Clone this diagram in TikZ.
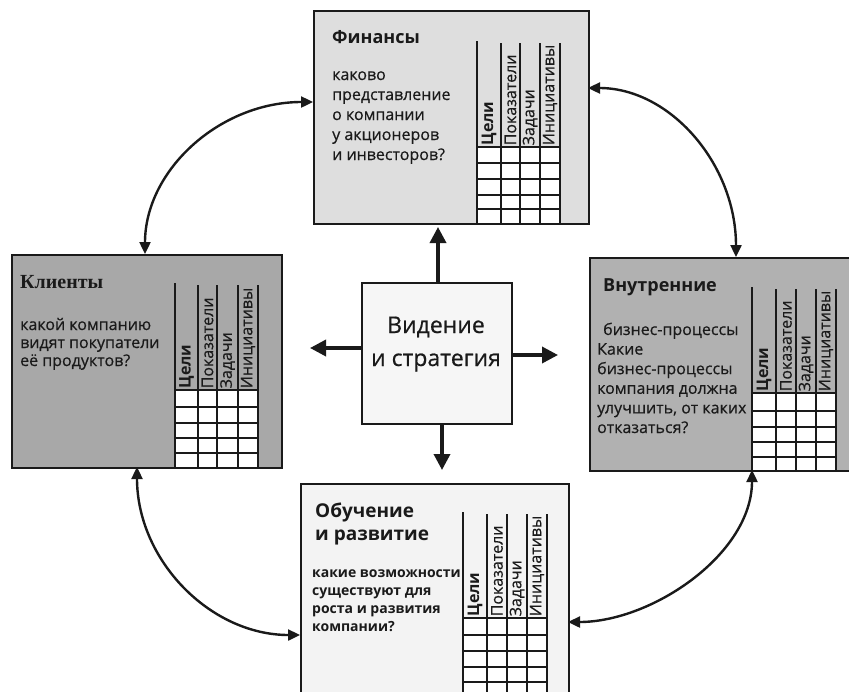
\documentclass[tikz,border=0pt]{standalone}
\usepackage{fontspec}
\setmainfont{Open Sans}
\newfontfamily\bodyfont{Open Sans}[FakeBold=0.5]
\newfontfamily\slabfont{Liberation Serif}
\usetikzlibrary{arrows.meta}

\definecolor{ink}{HTML}{1A1A1A}
\definecolor{finfill}{HTML}{DEDEDE}
\definecolor{clifill}{HTML}{A8A8A8}
\definecolor{intfill}{HTML}{B1B1B1}
\definecolor{lrnfill}{HTML}{F3F3F3}
\definecolor{visfill}{HTML}{F6F6F6}

\tikzset{
  card/.style={draw=ink, line width=1.8pt, anchor=north west, inner sep=0pt},
  gridrule/.style={line width=1.7pt, draw=ink},
  colhead/.style={rotate=90, anchor=west, inner sep=1.5pt, text=ink,
    font=\fontsize{16}{16}\bodyfont},
  cardtitle/.style={anchor=base west, inner sep=0pt, text=ink,
    font=\fontsize{18}{24}\selectfont\bfseries},
  cardbody/.style={anchor=base west, inner sep=0pt, text=ink},
  bigarrow/.style={draw=ink, line width=3.5pt, -{Triangle[length=16pt,width=16pt]}},
  link/.style={draw=ink, line width=2.4pt,
    {Triangle[length=12pt,width=11pt]}-{Triangle[length=12pt,width=11pt]}},
}

% lines of text whose base is the baseline of the first line
\newcommand\toplines[1]{\begin{tabular}[t]{@{}l@{}}#1\end{tabular}}
\newcommand\topcentre[1]{\begin{tabular}[t]{@{}c@{}}#1\end{tabular}}

% scorecard table: rules at five x positions, header column labels, five rows of cells
\def\bscsplit#1,#2,#3,#4,#5\relax{\def\xa{#1}\def\xb{#2}\def\xc{#3}\def\xd{#4}\def\xe{#5}}
\newcommand\bscgrid[6]{% #1 name prefix, #2 x of rules, #3 top of rules, #4 top of cells, #5 bottom, #6 inner row rules
  \bscsplit#2\relax
  \fill[white] (\xa,#4) rectangle (\xe,#5);
  \foreach \yy in {#4,#6} \draw[gridrule] (\xa,\yy) -- (\xe,\yy);
  \draw[gridrule] (\xa,#3-2) -- (\xa,#5);
  \foreach \xx in {\xb,\xc,\xd,\xe} \draw[gridrule] (\xx,#3) -- (\xx,#5);
  \node[colhead, font=\fontsize{16}{16}\selectfont\bfseries] (#1-goals) at ({(\xa+\xb)/2},#4) {Цели};
  \node[colhead] (#1-kpi) at ({(\xb+\xc)/2},#4) {Показатели};
  \node[colhead] (#1-tasks) at ({(\xc+\xd)/2},#4) {Задачи};
  \node[colhead] (#1-init) at ({(\xd+\xe)/2},#4) {Инициативы};
}

\begin{document}
\begin{tikzpicture}[x=1pt, y=-1pt]
\useasboundingbox (0,0) rectangle (849,691);
\clip (0,0) rectangle (849,691);
\fill[white] (0,0) rectangle (849,691);

% --- the four perspective cards ---
\node[card, fill=finfill, minimum width=275pt, minimum height=213pt] (fin) at (313,10) {};
\node[card, fill=clifill, minimum width=270pt, minimum height=213pt] (cli) at (11,254) {};
\node[card, fill=intfill, minimum width=280pt, minimum height=213pt] (int) at (589,257) {};
\node[card, fill=lrnfill, minimum width=268pt, minimum height=240pt] (lrn) at (300,483) {};

% --- centre ---
\node[card, fill=visfill, minimum width=150pt, minimum height=141pt] (vis) at (361,282) {};
\node[anchor=base, inner sep=0pt, text=ink, font=\fontsize{23}{33}\bodyfont]
  (vistext) at (436,333) {\topcentre{Видение\\и стратегия}};

% --- tables ---
\bscgrid{fin}{477,501,520,540,560}{43}{147}{223}{163,179,195,209}
\bscgrid{cli}{175,198,217,238,258}{285}{390}{467}{407,423,438,453}
\bscgrid{int}{752,776,796,816,836}{289}{393}{470}{411,427,442,457}
\bscgrid{lrn}{463,487,507,527,547}{514}{618}{700}{635,651,667,682,698}

% --- card texts ---
\node[cardtitle] (fin-title) at (332,43) {Финансы};
\node[cardbody, font=\fontsize{16}{20}\bodyfont] (fin-text) at (332,80)
  {\toplines{каково\\представление\\о компании\\у акционеров\\и инвесторов?}};

\node[cardtitle, font=\fontsize{20}{24}\slabfont\bfseries] (cli-title) at (20,288) {Клиенты};
\node[cardbody, font=\fontsize{16}{18}\bodyfont] (cli-text) at (20,330)
  {\toplines{какой компанию\\видят покупатели\\её продуктов?}};

\node[cardtitle] (int-title) at (603,291) {Внутренние};
\node[cardbody, font=\fontsize{16}{19.6}\bodyfont] (int-text) at (597,335)
  {\toplines{\hspace{6pt}бизнес-процессы\\Какие\\бизнес-процессы\\компания должна\\улучшить, от каких\\отказаться?}};

\node[cardtitle, font=\fontsize{19}{23.5}\selectfont\bfseries] (lrn-title) at (315,517)
  {\toplines{Обучение\\и развитие}};
\node[cardbody, font=\fontsize{14}{18.3}\selectfont\bfseries] (lrn-text) at (312,577)
  {\toplines{какие возможности\\существуют для\\роста и развития\\компании?}};

% --- arrows from the centre ---
\coordinate (upTip) at (438,227);
\coordinate (downTip) at (442,470);
\coordinate (leftTip) at (310,348);
\coordinate (rightTip) at (558,355);
\draw[bigarrow] (vis.north -| upTip) -- (upTip);
\draw[bigarrow] (vis.south -| downTip) -- (downTip);
\draw[bigarrow] (vis.west |- leftTip) -- (leftTip);
\draw[bigarrow] (vis.east |- rightTip) -- (rightTip);

% --- links between neighbouring cards ---
\coordinate (finW) at (313,102);
\coordinate (finE) at (588,88);
\coordinate (cliN) at (145,254);
\coordinate (cliS) at (137,467);
\coordinate (intN) at (736,257);
\coordinate (intS) at (752,470);
\coordinate (lrnW) at (300,635);
\coordinate (lrnE) at (568,622);
\draw[link] (finW) .. controls (220,102) and (145,170) .. (cliN);
\draw[link] (finE) .. controls (670,88) and (736,164) .. (intN);
\draw[link] (cliS) .. controls (137,560) and (210,635) .. (lrnW);
\draw[link] (intS) .. controls (752,554) and (652,622) .. (lrnE);
\end{tikzpicture}
\end{document}
